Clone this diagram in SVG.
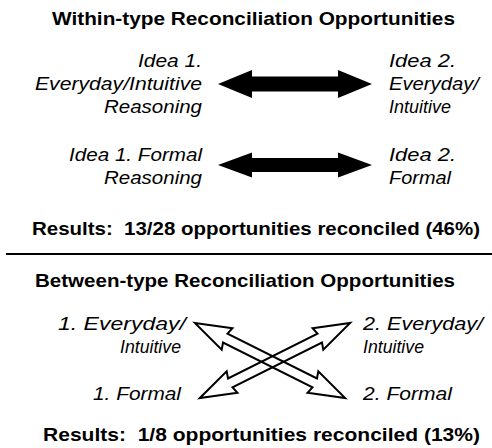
<svg xmlns="http://www.w3.org/2000/svg" xmlns:xlink="http://www.w3.org/1999/xlink" width="492" height="448" viewBox="0 0 492 448">
  <style>
    .head { font-family: "Liberation Sans", Arial, Helvetica, sans-serif; font-weight: bold; font-size: 19px; fill: #000; }
    .lbl { font-family: "Liberation Sans", Arial, Helvetica, sans-serif; font-style: italic; font-size: 18px; fill: #000; }
    .end { text-anchor: end; }
    .solid { fill: #000; stroke: none; }
    .hollow { fill: none; stroke: #000; stroke-width: 2; stroke-linejoin: miter; }
  </style>
  <defs>
    <!-- outline double arrow along the x axis, centred on the origin -->
    <polygon id="hollowArrow" points="-84,0 -48,-12 -50,-5 50,-5 48,-12 84,0 48,12 50,5 -50,5 -48,12"/>
  </defs>
  <rect width="492" height="448" fill="#fff"/>

  <!-- within-type section -->
  <text class="head" x="52" y="25" textLength="403" lengthAdjust="spacingAndGlyphs">Within-type Reconciliation Opportunities</text>

  <g id="idea1-everyday">
    <text class="lbl end" x="202" y="67" textLength="64" lengthAdjust="spacingAndGlyphs">Idea 1.</text>
    <text class="lbl end" x="202" y="90" textLength="167" lengthAdjust="spacingAndGlyphs">Everyday/Intuitive</text>
    <text class="lbl end" x="202" y="113" textLength="98" lengthAdjust="spacingAndGlyphs">Reasoning</text>
  </g>
  <g id="idea2-everyday">
    <text class="lbl" x="389" y="67" textLength="67" lengthAdjust="spacingAndGlyphs">Idea 2.</text>
    <text class="lbl" x="389" y="90" textLength="90" lengthAdjust="spacingAndGlyphs">Everyday/</text>
    <text class="lbl" x="389" y="113" textLength="62" lengthAdjust="spacingAndGlyphs">Intuitive</text>
  </g>
  <g id="idea1-formal">
    <text class="lbl end" x="202" y="161" textLength="133" lengthAdjust="spacingAndGlyphs">Idea 1. Formal</text>
    <text class="lbl end" x="202" y="184" textLength="98" lengthAdjust="spacingAndGlyphs">Reasoning</text>
  </g>
  <g id="idea2-formal">
    <text class="lbl" x="389" y="161" textLength="67" lengthAdjust="spacingAndGlyphs">Idea 2.</text>
    <text class="lbl" x="389" y="184" textLength="62" lengthAdjust="spacingAndGlyphs">Formal</text>
  </g>

  <text class="head" x="32" y="235" textLength="448" lengthAdjust="spacingAndGlyphs" xml:space="preserve">Results:  13/28 opportunities reconciled (46%)</text>

  <line x1="6" y1="254" x2="492" y2="254" stroke="#000" stroke-width="2"/>

  <!-- between-type section -->
  <text class="head" x="35" y="287" textLength="420" lengthAdjust="spacingAndGlyphs">Between-type Reconciliation Opportunities</text>

  <g id="type1-everyday">
    <text class="lbl end" x="186" y="330" textLength="128" lengthAdjust="spacingAndGlyphs">1. Everyday/</text>
    <text class="lbl end" x="181" y="353" textLength="61" lengthAdjust="spacingAndGlyphs">Intuitive</text>
  </g>
  <g id="type2-everyday">
    <text class="lbl" x="363" y="330" textLength="120" lengthAdjust="spacingAndGlyphs">2. Everyday/</text>
    <text class="lbl" x="363" y="353" textLength="61" lengthAdjust="spacingAndGlyphs">Intuitive</text>
  </g>
  <g id="type1-formal">
    <text class="lbl end" x="181" y="400" textLength="88" lengthAdjust="spacingAndGlyphs">1. Formal</text>
  </g>
  <g id="type2-formal">
    <text class="lbl" x="363" y="400" textLength="89" lengthAdjust="spacingAndGlyphs">2. Formal</text>
  </g>

  <text class="head" x="43" y="441" textLength="437" lengthAdjust="spacingAndGlyphs" xml:space="preserve">Results:  1/8 opportunities reconciled (13%)</text>

  <g id="connectors">
    <polygon class="solid" points="218,84 252,70 252,76.5 338,76.5 338,70 372,84 338,98 338,91.5 252,91.5 252,98"/>
    <polygon class="solid" points="218,165 252,152.5 252,158 338,158 338,152.5 372,165 338,177.5 338,172 252,172 252,177.5"/>
    <use xlink:href="#hollowArrow" class="hollow" transform="translate(270,360.5) rotate(26.57)"/>
    <use xlink:href="#hollowArrow" class="hollow" transform="translate(275,360.5) rotate(-26.57)"/>
  </g>
</svg>
